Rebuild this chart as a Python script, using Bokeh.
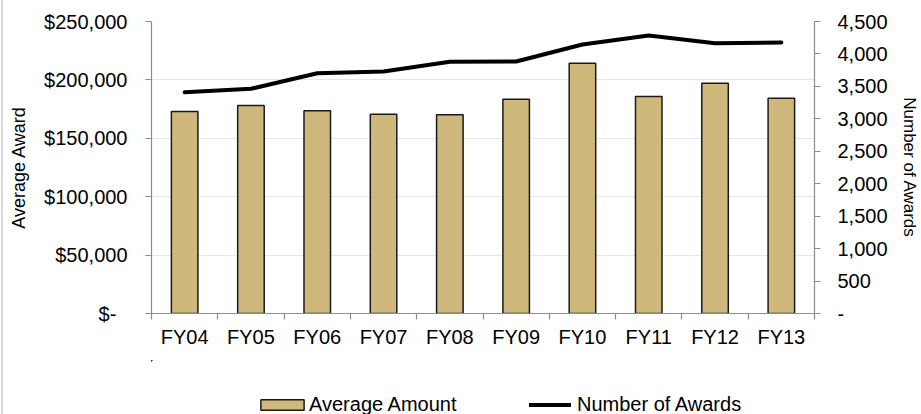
from bokeh.plotting import figure
from bokeh.layouts import column
from bokeh.models import (Range1d, LinearAxis, FixedTicker, NumeralTickFormatter,
                          Legend, LegendItem, ColumnDataSource)
from bokeh.embed import file_html
from bokeh.resources import INLINE

# ---- data ----
years = ["FY04", "FY05", "FY06", "FY07", "FY08", "FY09", "FY10", "FY11", "FY12", "FY13"]
avg_amount = [173000, 178000, 173500, 170600, 170100, 183500, 214300, 185800, 197200, 184300]
num_awards = [3410, 3463, 3703, 3729, 3879, 3883, 4146, 4284, 4166, 4176]
left_ticks = [0, 50000, 100000, 150000, 200000, 250000]
right_ticks = [0, 500, 1000, 1500, 2000, 2500, 3000, 3500, 4000, 4500]
series_names = ["Average Amount", "Number of Awards"]

FONT = "Liberation Sans"
AXIS_COLOR = "#8C8C8C"
BAR_FILL = "#CFB87C"
BAR_LINE = "#1A1A1A"

x = [i + 0.5 for i in range(len(years))]
bounds = list(range(len(years) + 1))
src = ColumnDataSource(dict(x=x, avg=avg_amount, n=num_awards))

W = 921
H_MAIN = 360
H_LEG = 414 - H_MAIN

p = figure(width=W, height=H_MAIN, output_backend="svg", toolbar_location=None,
           x_range=Range1d(0, len(years)), y_range=Range1d(0, left_ticks[-1]),
           min_border_left=151, min_border_right=106, min_border_top=21,
           min_border_bottom=H_MAIN - 313)
p.extra_y_ranges = {"n": Range1d(0, right_ticks[-1])}
p.outline_line_color = None
p.background_fill_color = "white"
p.border_fill_alpha = 0

bars = p.vbar(x="x", top="avg", width=0.4, source=src, fill_color=BAR_FILL,
              line_color=BAR_LINE, line_width=1.5)
line = p.line(x="x", y="n", source=src, y_range_name="n", line_color="black",
              line_width=4, line_cap="round", line_join="round")

# x axis
xa = p.xaxis[0]
xa.ticker = FixedTicker(ticks=x, minor_ticks=bounds)
xa.major_label_overrides = {xi: yr for xi, yr in zip(x, years)}
xa.major_tick_line_color = None
xa.major_tick_out = 0
xa.major_tick_in = 0
xa.minor_tick_line_color = AXIS_COLOR
xa.minor_tick_out = 6
xa.minor_tick_in = 0
xa.major_label_standoff = 6

# left axis
ya = p.yaxis[0]
ya.ticker = FixedTicker(ticks=left_ticks, minor_ticks=[])
ya.formatter = NumeralTickFormatter(format="$0,0")
ya.major_label_overrides = {0: "$-\u00a0\u00a0"}
ya.axis_label = "Average Award"
ya.major_tick_out = 6
ya.major_tick_in = 0
ya.major_label_standoff = 18
ya.axis_label_standoff = 12
ya.axis_label_text_font_size = "18px"

# right axis
ra = LinearAxis(y_range_name="n", ticker=FixedTicker(ticks=right_ticks, minor_ticks=[]),
                formatter=NumeralTickFormatter(format="0,0"))
ra.major_label_overrides = {0: "-"}
ra.axis_label = "Number of Awards"
ra.major_tick_out = 6
ra.major_tick_in = 0
ra.major_label_standoff = 17
ra.axis_label_standoff = 9
ra.axis_label_text_font_size = "17px"
p.add_layout(ra, "right")

for ax in (xa, ya, ra):
    ax.axis_line_color = AXIS_COLOR
    ax.axis_line_width = 1.2
    ax.major_tick_line_width = 1.2
    ax.minor_tick_line_width = 1.2
    if ax is not xa:
        ax.major_tick_line_color = AXIS_COLOR
    ax.major_label_text_font = FONT
    ax.major_label_text_font_size = "20px"
    ax.major_label_text_color = "black"
    ax.axis_label_text_font = FONT
    ax.axis_label_text_font_style = "normal"
    ax.axis_label_text_color = "black"

p.xgrid.visible = False
p.ygrid.ticker = FixedTicker(ticks=left_ticks, minor_ticks=[])
p.ygrid.grid_line_color = "#E6E6E6"
p.ygrid.grid_line_width = 1

# ---- legend strip (separate figure below the chart; its frame aligns with p's) ----
# Its ranges lie away from the data (moderately, to keep coordinates small), so the
# series themselves are not visible here; the renderers only supply legend styles.
q = figure(width=W, height=H_LEG, output_backend="svg", toolbar_location=None,
           x_range=Range1d(100, 110), y_range=Range1d(-1e6, -9e5),
           x_axis_type=None, y_axis_type=None,
           min_border_left=0, min_border_right=0, min_border_top=0, min_border_bottom=0)
q.outline_line_color = None
q.background_fill_alpha = 0
q.border_fill_alpha = 0
q.xgrid.visible = False
q.ygrid.visible = False
lbar = q.vbar(x="x", top="avg", width=0.4, source=src, fill_color=BAR_FILL,
              line_color=BAR_LINE, line_width=1.5)
lline = q.line(x="x", y="n", source=src, line_color="black", line_width=4,
               line_cap="round")

common = dict(orientation="horizontal", padding=0, margin=0, border_line_color=None,
              background_fill_alpha=0, label_text_font=FONT, label_text_font_size="20px",
              label_text_color="black", glyph_height=13, label_height=13)
leg1 = Legend(items=[LegendItem(label=series_names[0], renderers=[lbar])],
              location=(104, -2), glyph_width=54, label_standoff=0, **common)
leg2 = Legend(items=[LegendItem(label=series_names[1], renderers=[lline])],
              location=(378, -2), glyph_width=42, label_standoff=6, **common)
q.add_layout(leg1)
q.add_layout(leg2)

layout = column(p, q, spacing=0,
                styles={"background": "linear-gradient(to right, #FFFFFF 0px, #FFFFFF 1px, "
                                      "#D9D9D9 1px, #D9D9D9 3px, #FFFFFF 3px)"})
open("out.html", "w").write(file_html(layout, INLINE))
